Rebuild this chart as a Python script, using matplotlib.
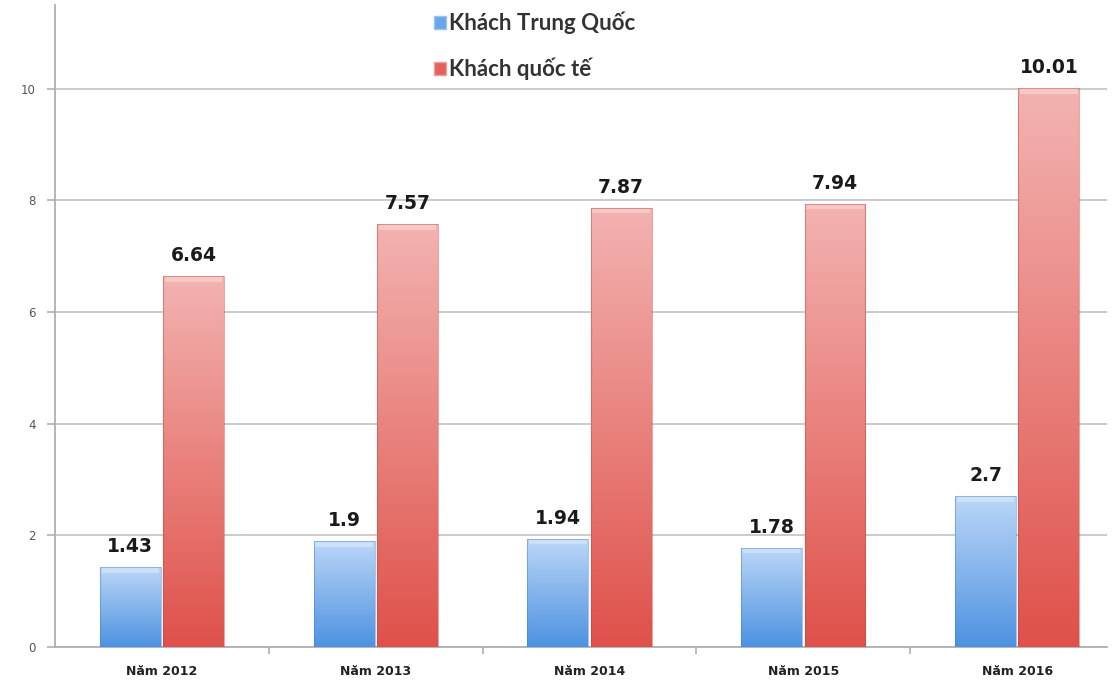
import matplotlib
matplotlib.use("Agg")
import matplotlib.pyplot as plt
import numpy as np
from matplotlib.patches import Patch, Rectangle
from matplotlib.colors import LinearSegmentedColormap

years = ["Năm 2012", "Năm 2013", "Năm 2014", "Năm 2015", "Năm 2016"]
khach_trung_quoc = [1.43, 1.9, 1.94, 1.78, 2.7]
khach_quoc_te = [6.64, 7.57, 7.87, 7.94, 10.01]
series_names = ["Khách Trung Quốc", "Khách quốc tế"]
y_ticks = [0, 2, 4, 6, 8, 10]

blue_top, blue_bottom = "#bcd7f7", "#4d92e1"
red_top, red_bottom = "#f3b3b1", "#df514a"

fig = plt.figure(figsize=(11.18, 6.84), dpi=100)
ax = fig.add_axes([55 / 1118, 1 - 647 / 684, (1107 - 55) / 1118, (647 - 5) / 684])

x = np.arange(len(years))
width = 0.285
offset = 0.148

def gradient_bars(xpos, values, top, bottom, edge):
    cmap = LinearSegmentedColormap.from_list("g", [bottom, top])
    bars = ax.bar(xpos, values, width=width, color="none", edgecolor="none", zorder=3)
    grad = np.linspace(0, 1, 256).reshape(-1, 1)
    for b in bars:
        x0, w, h = b.get_x(), b.get_width(), b.get_height()
        im = ax.imshow(grad, extent=(x0, x0 + w, 0, h), origin="lower",
                       aspect="auto", cmap=cmap, zorder=3, interpolation="bicubic")
        im.set_clip_path(b)
        # soft bevel along the top of each bar
        ax.add_patch(Rectangle((x0 + 0.008, h - 0.1), w - 0.016, 0.1,
                               facecolor="white", alpha=0.3, edgecolor="none", zorder=4))
        ax.add_patch(Rectangle((x0, 0), w, h, facecolor="none",
                               edgecolor=edge, linewidth=0.8, alpha=0.45, zorder=5))
    return bars

bars_cn = gradient_bars(x - offset, khach_trung_quoc, blue_top, blue_bottom, "#3f7fc8")
bars_int = gradient_bars(x + offset, khach_quoc_te, red_top, red_bottom, "#c0443e")

for xs, vals in ((x - offset, khach_trung_quoc), (x + offset, khach_quoc_te)):
    for xi, v in zip(xs, vals):
        ax.annotate(f"{v:g}", (xi, v), xytext=(0, 8), textcoords="offset points",
                    ha="center", va="bottom", fontsize=13.5, fontweight="bold",
                    color="#1a1a1a", zorder=6)

ax.set_xlim(-0.5, 4.42)
ax.set_ylim(0, 11.5)

ax.set_yticks(y_ticks)
ax.set_yticklabels([str(t) for t in y_ticks])
ax.yaxis.grid(True, color="#c2c2c2", linewidth=1.2, zorder=0)
ax.set_axisbelow(True)

ax.set_xticks(x)
ax.set_xticklabels(years, fontsize=9, fontweight="bold", color="#222222")
ax.set_xticks(np.arange(len(years) - 1) + 0.5, minor=True)
ax.tick_params(axis="x", which="major", length=0, pad=13)
ax.tick_params(axis="x", which="minor", length=5, color="#b0b0b0", width=1.2)
ax.tick_params(axis="y", length=6, color="#b0b0b0", width=1.2, pad=8,
               labelsize=8.5, labelcolor="#555555")

for s in ("top", "right"):
    ax.spines[s].set_visible(False)
for s in ("left", "bottom"):
    ax.spines[s].set_color("#b0b0b0")
    ax.spines[s].set_linewidth(1.3)

handles = [Patch(facecolor="#6aa6ea", edgecolor="#9cc4f2"),
           Patch(facecolor="#e4625c", edgecolor="#f0a09c")]
leg = fig.legend(handles, series_names, loc="upper left",
                 bbox_to_anchor=(425 / 1118, 1 - 3 / 684), frameon=False,
                 handlelength=0.55, handleheight=0.55, handletextpad=0.15,
                 labelspacing=1.05, borderaxespad=0,
                 prop={"family": ["Lato", "DejaVu Sans"], "weight": "bold", "size": 16})
for t in leg.get_texts():
    t.set_color("#333333")

fig.savefig("out.png", dpi=100)
